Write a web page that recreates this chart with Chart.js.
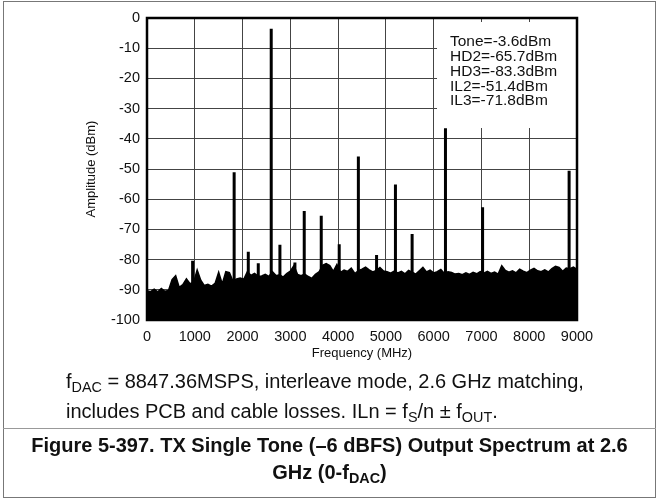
<!DOCTYPE html>
<html>
<head>
<meta charset="utf-8">
<script src="https://cdn.jsdelivr.net/npm/chart.js@4.4.1/dist/chart.umd.min.js"></script>
<style>
    body { margin: 0; background: #fff; font-family: "Liberation Sans", Arial, sans-serif; color: #111; }
    .frame { position: absolute; left: 3px; top: 1px; width: 653px; height: 497px; border: 1px solid #777; box-sizing: border-box; }
    #chart_box { position: absolute; left: 0; top: 0; width: 660px; height: 370px; }
    .note { position: absolute; left: 66px; top: 366px; font-size: 20px; line-height: 30px; white-space: nowrap; }
    .rule { position: absolute; left: 3px; top: 428px; width: 653px; border-top: 1px solid #999; }
    .fig { position: absolute; left: 3px; top: 432px; width: 653px; text-align: center; font-weight: bold; font-size: 20px; line-height: 27px; white-space: nowrap; }
    sub { font-size: 0.72em; vertical-align: -0.3em; line-height: 0; }
</style>
</head>
<body>
<div class="frame"></div>
<div id="chart_box"><canvas id="spectrum" width="660" height="370"></canvas></div>
<div class="note">f<sub>DAC</sub> = 8847.36MSPS, interleave mode, 2.6 GHz matching,<br>includes PCB and cable losses. ILn = f<sub>S</sub>/n ± f<sub>OUT</sub>.</div>
<div class="rule"></div>
<div class="fig">Figure 5-397. TX Single Tone (–6 dBFS) Output Spectrum at 2.6<br>GHz (0-f<sub>DAC</sub>)</div>

<script>
// noise floor, every 75 MHz (MHz / dBm)
const noiseFreq = [
    0, 75, 150, 225, 300, 375, 450, 525, 600, 675, 750, 825, 900, 975, 1050, 1125, 1200, 1275, 1350, 1425,
    1500, 1575, 1650, 1725, 1800, 1875, 1950, 2025, 2100, 2175, 2250, 2325, 2400, 2475, 2550, 2625, 2700, 2775, 2850, 2925,
    3000, 3075, 3150, 3225, 3300, 3375, 3450, 3525, 3600, 3675, 3750, 3825, 3900, 3975, 4050, 4125, 4200, 4275, 4350, 4425,
    4500, 4575, 4650, 4725, 4800, 4875, 4950, 5025, 5100, 5175, 5250, 5325, 5400, 5475, 5550, 5625, 5700, 5775, 5850, 5925,
    6000, 6075, 6150, 6225, 6300, 6375, 6450, 6525, 6600, 6675, 6750, 6825, 6900, 6975, 7050, 7125, 7200, 7275, 7350, 7425,
    7500, 7575, 7650, 7725, 7800, 7875, 7950, 8025, 8100, 8175, 8250, 8325, 8400, 8475, 8550, 8625, 8700, 8775, 8850, 8925,
    9000
];
const noiseLevel = [
    -90.3, -90.6, -89.8, -90.7, -89.6, -90.5, -90.2, -86.6, -85.3, -89.2, -88.3, -86.4, -88.0, -87.6, -83.4, -86.8, -88.6, -88.2, -88.8, -87.9,
    -84.2, -88.1, -84.0, -84.3, -87.2, -86.4, -86.1, -86.5, -84.0, -85.2, -84.6, -85.5, -85.4, -84.9, -85.6, -84.0, -85.3, -85.0, -85.8, -84.6,
    -83.8, -82.0, -84.9, -85.3, -84.8, -85.6, -86.2, -84.9, -84.1, -81.9, -81.3, -82.0, -83.9, -81.6, -84.2, -83.5, -83.9, -82.8, -84.6, -83.7,
    -83.2, -82.5, -83.4, -84.1, -83.6, -82.6, -83.8, -84.0, -84.5, -83.8, -84.4, -83.9, -84.7, -83.6, -84.2, -84.8, -83.7, -82.6, -84.1, -83.5,
    -84.4, -84.0, -83.3, -84.6, -84.0, -84.3, -84.8, -84.6, -85.0, -84.4, -84.9, -84.2, -84.7, -84.0, -84.5, -83.9, -84.6, -84.1, -84.8, -82.0,
    -83.6, -84.2, -83.7, -84.4, -83.2, -83.8, -84.3, -83.5, -82.9, -83.7, -84.0, -83.4, -84.1, -83.0, -82.2, -82.6, -83.9, -82.8, -83.0, -82.5,
    -83.2
];

// tone, images and spurs (MHz / dBm)
const spurFreq  = [955, 1824, 2120, 2329, 2600, 2782, 3096, 3291, 3647, 4023, 4424, 4805, 5200, 5549, 6247, 7024, 8835];
const spurLevel = [-80.4, -51.1, -77.4, -81.2, -3.6, -75.1, -81.0, -63.9, -65.5, -74.9, -45.9, -78.5, -55.1, -71.5, -36.5, -62.7, -50.6];

const xTicks = [0, 1000, 2000, 3000, 4000, 5000, 6000, 7000, 8000, 9000];
const yTicks = [0, -10, -20, -30, -40, -50, -60, -70, -80, -90, -100];

const noteLines = ['Tone=-3.6dBm', 'HD2=-65.7dBm', 'HD3=-83.3dBm', 'IL2=-51.4dBm', 'IL3=-71.8dBm'];

const fontFamily = '"Liberation Sans", Arial, sans-serif';

// each spur is a vertical segment from the floor of the plot up to its level
const spurPoints = [];
spurFreq.forEach((f, i) => {
    spurPoints.push({ x: f, y: -100 });
    spurPoints.push({ x: f, y: spurLevel[i] });
    spurPoints.push({ x: f, y: null });
});

// white note box and thick plot frame
const notesAndFrame = {
    id: 'notesAndFrame',
    beforeDatasetsDraw(chart) {
        const { ctx, chartArea: a } = chart;
        const boxL = a.right - 140;
        const boxT = a.top + 4;
        ctx.save();
        ctx.fillStyle = '#fff';
        ctx.fillRect(boxL, boxT, a.right - boxL, 106);
        ctx.fillStyle = '#111';
        ctx.font = '15.5px ' + fontFamily;
        ctx.textBaseline = 'middle';
        noteLines.forEach((t, i) => ctx.fillText(t, boxL + 13, boxT + 20 + i * 14.8));
        ctx.restore();
    },
    afterDraw(chart) {
        const { ctx, chartArea: a } = chart;
        ctx.save();
        ctx.strokeStyle = '#000';
        ctx.lineWidth = 2.5;
        ctx.strokeRect(a.left, a.top, a.right - a.left, a.bottom - a.top);
        ctx.restore();
    }
};

new Chart(document.getElementById('spectrum'), {
    type: 'line',
    data: {
        datasets: [
            {
                data: noiseFreq.map((f, i) => ({ x: f, y: noiseLevel[i] })),
                borderColor: '#000',
                backgroundColor: '#000',
                borderWidth: 1.5,
                pointRadius: 0,
                fill: 'start',
                tension: 0
            },
            {
                data: spurPoints,
                borderColor: '#000',
                borderWidth: 3,
                pointRadius: 0,
                spanGaps: false,
                fill: false
            }
        ]
    },
    options: {
        responsive: false,
        animation: false,
        devicePixelRatio: 1,
        layout: { padding: { left: 0, right: 83, top: 18, bottom: 0 } },
        plugins: {
            legend: { display: false },
            tooltip: { enabled: false }
        },
        scales: {
            x: {
                type: 'linear',
                min: 0,
                max: 9000,
                afterBuildTicks: (scale) => { scale.ticks = xTicks.map(v => ({ value: v })); },
                afterFit: (scale) => { scale.height = 50; },
                ticks: {
                    color: '#111',
                    padding: 8,
                    font: { family: fontFamily, size: 14.5 },
                    maxRotation: 0,
                    callback: (value) => String(value)
                },
                grid: { color: '#444', lineWidth: 1, drawTicks: false },
                border: { display: false },
                title: {
                    display: true,
                    text: 'Frequency (MHz)',
                    color: '#111',
                    font: { family: fontFamily, size: 13 },
                    padding: { top: 0, bottom: 9 }
                }
            },
            y: {
                min: -100,
                max: 0,
                afterBuildTicks: (scale) => { scale.ticks = yTicks.map(v => ({ value: v })); },
                afterFit: (scale) => { scale.width = 147; },
                ticks: {
                    color: '#111',
                    padding: 7,
                    font: { family: fontFamily, size: 14.5 },
                    callback: (value) => String(value)
                },
                grid: { color: '#444', lineWidth: 1, drawTicks: false },
                border: { display: false },
                title: {
                    display: true,
                    text: 'Amplitude (dBm)',
                    color: '#111',
                    font: { family: fontFamily, size: 13 },
                    padding: { top: 84, bottom: 0 }
                }
            }
        }
    },
    plugins: [notesAndFrame]
});
</script>
</body>
</html>
